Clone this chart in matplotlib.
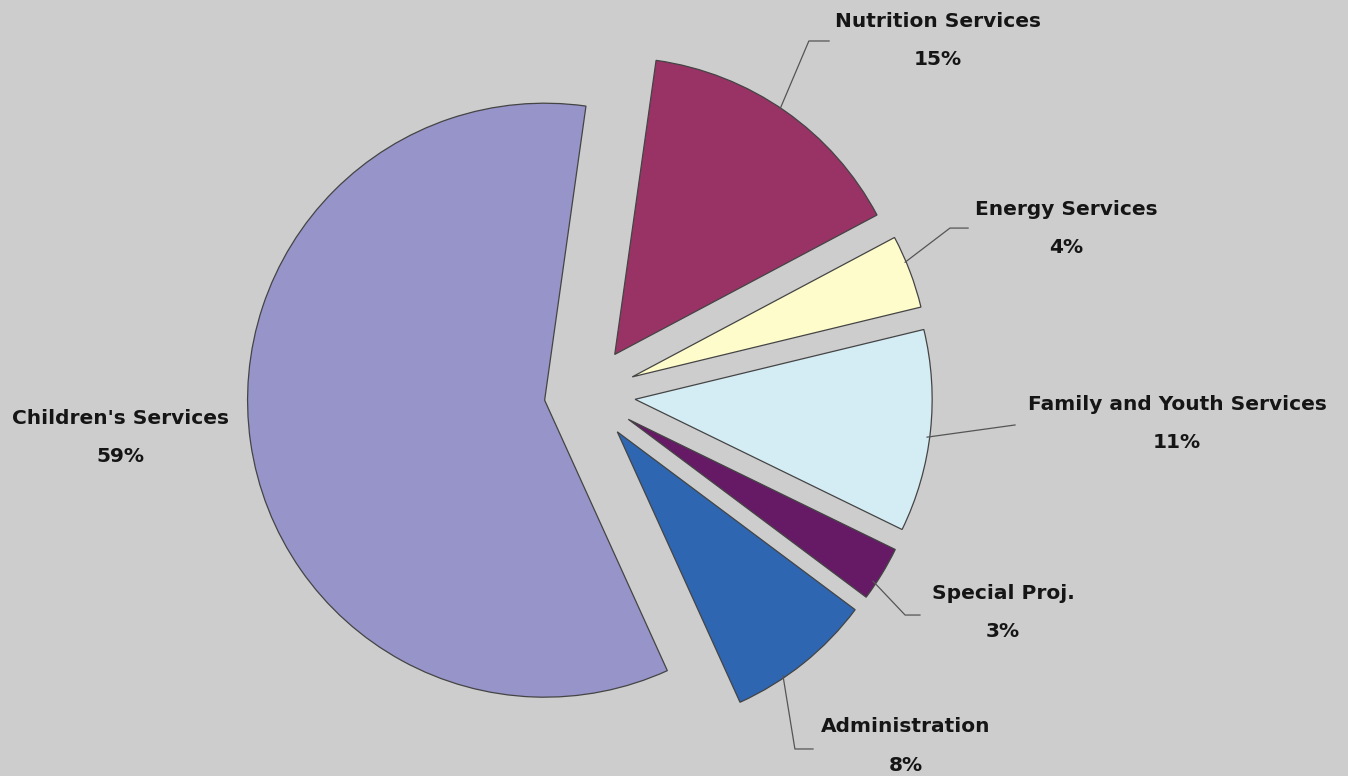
import matplotlib.pyplot as plt

labels = ['Nutrition Services', 'Energy Services', 'Family and Youth Services',
          'Special Proj.', 'Administration', "Children's Services"]
shares = [15, 4, 11, 3, 8, 59]
colors = ['#993366', '#FFFCCC', '#D4EDF5', '#661A66', '#2E66B2', '#9694C8']
explode = [0.163, 0.163, 0.163, 0.163, 0.163, 0.144]

# label text centres (data units, pie radius = 1) and leader lines
label_pos = [(1.182, 1.253), (1.613, 0.620), (1.987, -0.034),
             (1.401, -0.670), (1.074, -1.121), (-1.572, -0.081)]
leaders = [[(0.650, 0.960), (0.747, 1.189), (0.815, 1.189)],
           [(1.071, 0.444), (1.222, 0.559), (1.283, 0.559)],
           [(1.145, -0.145), (1.441, -0.104)],
           [(0.963, -0.630), (1.071, -0.744), (1.121, -0.744)],
           [(0.660, -0.949), (0.700, -1.195), (0.761, -1.195)],
           None]

bg = '#CDCDCD'
fig = plt.figure(figsize=(13.48, 7.76), dpi=100, facecolor=bg)
ax = fig.add_axes([0, 0, 1, 1])
ax.set_facecolor(bg)

ax.pie(shares, colors=colors, explode=explode, startangle=82, counterclock=False,
       radius=1.0, wedgeprops=dict(edgecolor='#444444', linewidth=0.9))

for lab, val, (x, y), ld in zip(labels, shares, label_pos, leaders):
    ax.text(x, y, lab, ha='center', va='center', fontsize=14.5,
            fontweight='bold', color='#151515')
    ax.text(x, y - 0.128, '%d%%' % val, ha='center', va='center', fontsize=14.5,
            fontweight='bold', color='#151515')
    if ld:
        ax.plot([p[0] for p in ld], [p[1] for p in ld], color='#555555', lw=0.9)

ax.set_aspect('auto')
ax.set_xlim(-1.976, 2.562)
ax.set_ylim(-1.286, 1.327)
ax.axis('off')

fig.savefig('out.png', dpi=100, facecolor=bg)
